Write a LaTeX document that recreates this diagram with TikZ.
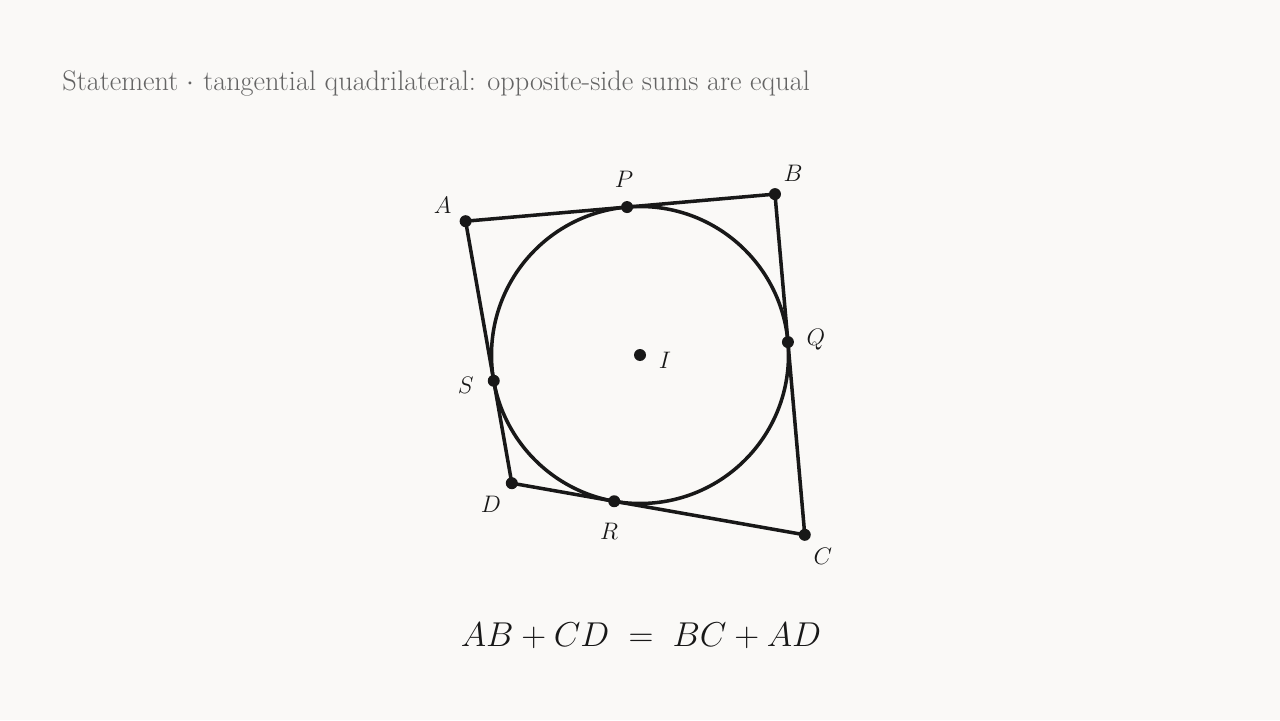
\RequirePackage{fix-cm}
\documentclass[tikz,border=0pt]{standalone}
\usepackage{tikz}
\definecolor{bg}{RGB}{250,249,247}
\definecolor{ink}{RGB}{24,24,24}
\definecolor{titlegray}{RGB}{100,100,100}
\begin{document}
\begin{tikzpicture}[x=0.02cm,y=0.02cm,
  edge/.style={draw=ink,line width=2pt,line join=round},
  dotpt/.style={circle,fill=ink,inner sep=0pt,minimum size=0.24cm},
  lbl/.style={text=ink,inner sep=0pt,font=\fontsize{13.6}{16}\selectfont}]
\useasboundingbox[fill=bg] (-640,-365) rectangle (640,355);
\def\r{148.5}
\coordinate (I) at (0,0);
\coordinate (P) at (95:\r);
\coordinate (Q) at (5:\r);
\coordinate (R) at (260:\r);
\coordinate (S) at (190:\r);
\coordinate (A) at (142.5:219.8);
\coordinate (B) at (50:210);
\coordinate (C) at (312.5:243.9);
\coordinate (D) at (225:181.3);
\draw[edge] (I) circle[radius=\r];
\draw[edge] (A) -- (B) -- (C) -- (D) -- cycle;
\foreach \p in {A,B,C,D,P,Q,R,S,I} \node[dotpt] (d\p) at (\p) {};
\node[lbl] (lA) at ([shift={(-23,16)}]A) {$A$};
\node[lbl] (lB) at ([shift={(18,21)}]B) {$B$};
\node[lbl] (lC) at ([shift={(18,-22)}]C) {$C$};
\node[lbl] (lD) at ([shift={(-21,-21)}]D) {$D$};
\node[lbl] (lP) at ([shift={(-3,28)}]P) {$P$};
\node[lbl] (lQ) at ([shift={(28,2)}]Q) {$Q$};
\node[lbl] (lR) at ([shift={(-5,-30)}]R) {$R$};
\node[lbl] (lS) at ([shift={(-28,-5)}]S) {$S$};
\node[lbl] (lI) at ([shift={(25,-5)}]I) {$I$};
\node[anchor=base west,text=titlegray,inner sep=0pt,font=\fontsize{16.1}{19}\selectfont] (title) at (-578,264) {Statement $\cdot$ tangential quadrilateral: opposite-side sums are equal};
\node[anchor=base,text=ink,inner sep=0pt,font=\fontsize{19.64}{23}\selectfont] (eq) at (1,-291) {$AB+CD\;=\;BC+AD$};
\end{tikzpicture}
\end{document}
